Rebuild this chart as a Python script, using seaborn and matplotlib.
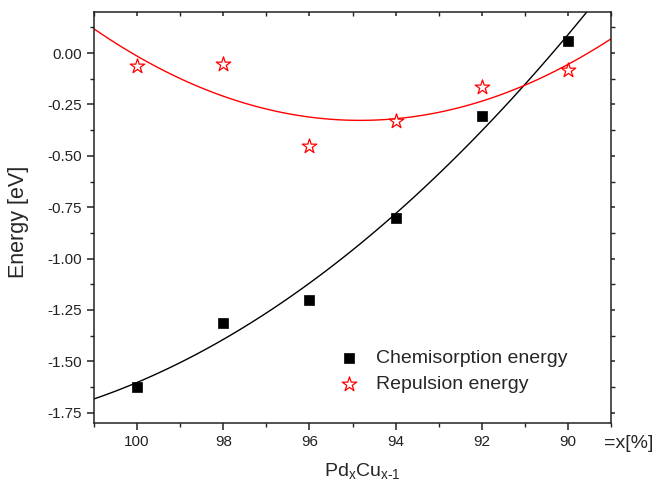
import numpy as np
import pandas as pd
import seaborn as sns
import matplotlib.pyplot as plt
from matplotlib.ticker import MultipleLocator

# composition x [%] of Pd_xCu_(x-1)
x_pct = [100, 98, 96, 94, 92, 90]
chemisorption = [-1.625, -1.312, -1.200, -0.804, -0.305, 0.060]
repulsion = [-0.065, -0.054, -0.451, -0.330, -0.164, -0.080]

x_ticks = [100, 98, 96, 94, 92, 90]
y_ticks = [-1.75, -1.50, -1.25, -1.00, -0.75, -0.50, -0.25, 0.00]

df = pd.DataFrame({'x': x_pct, 'chem': chemisorption, 'rep': repulsion})

sns.set_style('ticks')
plt.rcParams['font.family'] = ['Liberation Sans', 'DejaVu Sans']
plt.rcParams['mathtext.fontset'] = 'custom'
plt.rcParams['mathtext.rm'] = 'Liberation Sans'
plt.rcParams['mathtext.it'] = 'Liberation Sans'

fig = plt.figure(figsize=(6.56, 4.82), dpi=100)
ax = fig.add_axes([0.1433, 0.1224, 0.7881, 0.8527])
ax.set_xlim(101, 89)
ax.set_ylim(-1.8, 0.2)

# second order fits drawn across the whole x range
sns.regplot(data=df, x='x', y='chem', order=2, ci=None, scatter=False, truncate=False,
            color='black', line_kws={'lw': 1.0}, ax=ax)
sns.regplot(data=df, x='x', y='rep', order=2, ci=None, scatter=False, truncate=False,
            color='red', line_kws={'lw': 1.0}, ax=ax)

sns.scatterplot(data=df, x='x', y='chem', marker='s', s=50, color='black',
                edgecolor='black', linewidth=0.5, label='Chemisorption energy', ax=ax, zorder=3)
sns.scatterplot(data=df, x='x', y='rep', marker='*', s=120, facecolor='white',
                edgecolor='red', linewidth=0.9, label='Repulsion energy', ax=ax, zorder=3)

ax.set_xlim(101, 89)
ax.set_ylim(-1.8, 0.2)
ax.set_xticks(x_ticks)
ax.set_yticks(y_ticks)
ax.set_yticklabels([f'{v:.2f}' for v in y_ticks])
ax.xaxis.set_minor_locator(MultipleLocator(1))
ax.yaxis.set_minor_locator(MultipleLocator(0.125))

for sp in ax.spines.values():
    sp.set_linewidth(1.1)
    sp.set_color('#222222')

ax.tick_params(axis='both', which='major', direction='out', length=5, width=1.1,
               labelsize=11, colors='#222222')
ax.tick_params(axis='both', which='minor', direction='out', length=3, width=1.0,
               colors='#222222')
ax.tick_params(axis='both', which='both', top=True, right=True)
# mirror ticks on top/right pointing inward
for t in ax.xaxis.get_major_ticks() + ax.xaxis.get_minor_ticks():
    t.tick2line.set_marker(3)
    t.tick2line.set_markersize(3)
for t in ax.yaxis.get_major_ticks() + ax.yaxis.get_minor_ticks():
    t.tick2line.set_marker(1)
    t.tick2line.set_markersize(3)

ax.set_xlabel(r'Pd$_{\mathrm{x}}$Cu$_{\mathrm{x\text{-}1}}$', fontsize=14)
ax.xaxis.set_label_coords(0.52, -0.092)
ax.set_ylabel('Energy [eV]', fontsize=15.5)
ax.yaxis.set_label_coords(-0.126, 0.49)
fig.text(0.921, 1 - 443 / 482, '=x[%]', fontsize=14, va='center', ha='left')

ax.legend(loc='upper left', bbox_to_anchor=(0.44, 0.198), frameon=False,
          fontsize=14, handletextpad=0.4, labelspacing=0.42, borderaxespad=0)

fig.savefig('out.png', dpi=100)
